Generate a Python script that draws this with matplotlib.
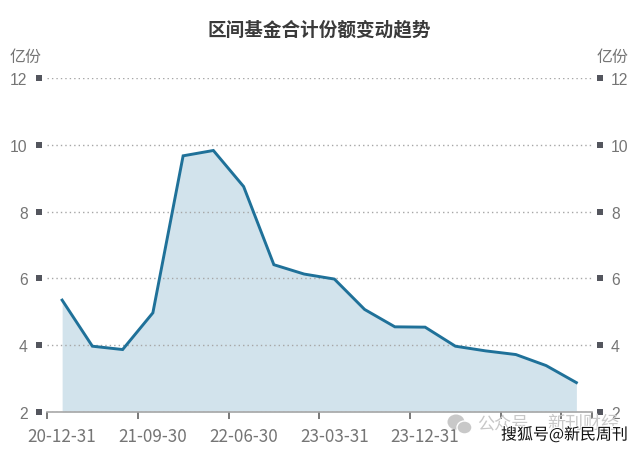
import matplotlib
matplotlib.use('Agg')
import matplotlib.pyplot as plt
import matplotlib.patheffects as pe
from matplotlib.patches import Ellipse

plt.rcParams['font.family'] = ['Noto Sans CJK SC', 'DejaVu Sans']

dates = ['20-12-31', '21-03-31', '21-06-30', '21-09-30', '21-12-31', '22-03-31',
         '22-06-30', '22-09-30', '22-12-31', '23-03-31', '23-06-30', '23-09-30',
         '23-12-31', '24-03-31', '24-06-30', '24-09-30', '24-12-31', '25-03-31']
shares = [5.35, 3.97, 3.87, 4.97, 9.67, 9.83, 8.75, 6.41, 6.13,
          5.98, 5.07, 4.55, 4.54, 3.97, 3.83, 3.72, 3.39, 2.88]
y_ticks = [2, 4, 6, 8, 10, 12]
label_idx = [0, 3, 6, 9, 12]      # the later labels are lost under the watermark
tick_edges = [0, 3, 6, 9, 12, 15, 17, 18]

W, H = 640, 452
gray = '#757575'
blue = '#1f7199'

fig = plt.figure(figsize=(W/100, H/100), dpi=100)
ax = fig.add_axes([47/W, 1-413/H, 544.5/W, 334/H])
x = list(range(len(dates)))

ax.fill_between(x, shares, 2, color='#d2e3ec', lw=0, zorder=1)
ax.plot(x, shares, color=blue, lw=2.1, solid_joinstyle='miter', zorder=3)

ax.set_xlim(-0.5, 17.5)
ax.set_ylim(2, 12)
ax.set_yticks(y_ticks)
ax.grid(axis='y', color='#a6a6a6', lw=1, ls=(0, (1, 2.2)), zorder=2)

for s in ['top', 'left', 'right']:
    ax.spines[s].set_visible(False)
ax.spines['bottom'].set_color('#a8a8a8')
ax.spines['bottom'].set_linewidth(1.2)

# ticks sit on the band edges, labels on the points
ax.set_xticks([e - 0.5 for e in tick_edges])
ax.set_xticklabels([])
ax.set_xticks(label_idx, [dates[i] for i in label_idx], minor=True)
ax.tick_params(axis='x', which='major', length=5, width=1.1, color='#555555', direction='out')
ax.tick_params(axis='x', which='minor', length=0, pad=11, labelsize=12.3, labelcolor=gray)
ax.tick_params(axis='y', length=0, pad=14, labelsize=11.3, labelcolor=gray)
for t in ax.get_yticklabels():
    t.set_family('Liberation Sans')

ax2 = ax.twinx()
ax2.set_ylim(2, 12)
ax2.set_yticks(y_ticks)
ax2.tick_params(axis='y', length=0, pad=14, labelsize=11.3, labelcolor=gray)
for t in ax2.get_yticklabels():
    t.set_family('Liberation Sans')
for s in ax2.spines.values():
    s.set_visible(False)

# little square tick marks either side of the plot
for v in y_ticks:
    for px in (39, 599.5):
        ax.plot((px - 47) / 544.5, v, marker='s', ms=3.8, color='#54565e', mew=0,
                transform=ax.get_yaxis_transform(), clip_on=False, zorder=5)

fig.text(319/W, 1-30/H, '区间基金合计份额变动趋势', ha='center', va='center',
         fontsize=13.4, fontweight='bold', color='#3a3a3a')
fig.text(10/W, 1-57/H, '亿份', ha='left', va='center', fontsize=11.5, color=gray)
fig.text(597/W, 1-57/H, '亿份', ha='left', va='center', fontsize=11.5, color=gray)

# watermarks
wm = '#c8c8c8'
fig.add_artist(Ellipse((456/W, 1-423/H), 17/W, 15/H, color=wm, lw=0, transform=fig.transFigure))
fig.add_artist(Ellipse((464.5/W, 1-428.5/H), 15/W, 13/H, fc=wm, ec='white', lw=1, transform=fig.transFigure))
fig.text(477/W, 1-424/H, '公众号', ha='left', va='center', fontsize=12.3, color=wm)
fig.text(547/W, 1-424/H, '新刊财经', ha='left', va='center', fontsize=13, color=wm)
fig.text(501/W, 1-436/H, '搜狐号@新民周刊', ha='left', va='center', fontsize=11.5, color='#111111',
         fontweight='medium', path_effects=[pe.withStroke(linewidth=1.5, foreground='white')])

fig.savefig('out.png', dpi=100)
